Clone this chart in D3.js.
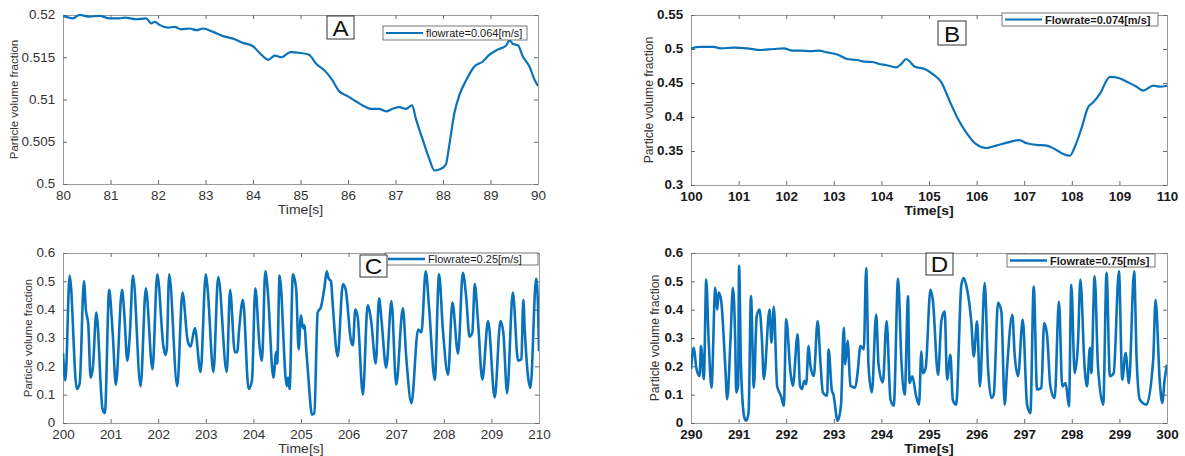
<!DOCTYPE html>
<html><head><meta charset="utf-8">
<script src="https://cdn.jsdelivr.net/npm/d3@7"></script>
<style>body{margin:0;background:#fff}svg{display:block;font-family:"Liberation Sans",Arial,sans-serif}</style>
</head><body><svg id="c" width="1185" height="456"></svg>
<script>
// ---------- DATA ----------
const seriesA = [[80,0.5199],[80.21,0.5196],[80.35,0.5200],[80.56,0.5198],[80.77,0.5199],[80.98,0.5196],[81.19,0.5196],[81.3,0.5197],[81.54,0.5195],[81.75,0.5196],[81.86,0.5190],[81.93,0.5192],[82.04,0.5188],[82.21,0.5185],[82.35,0.5186],[82.49,0.5183],[82.67,0.5184],[82.81,0.5182],[82.95,0.5184],[83.16,0.5180],[83.37,0.5175],[83.58,0.5172],[83.79,0.5167],[84.0,0.5163],[84.14,0.5155],[84.32,0.5147],[84.46,0.5152],[84.6,0.5150],[84.79,0.5156],[85.0,0.5155],[85.18,0.5153],[85.32,0.5143],[85.53,0.5133],[85.67,0.5123],[85.81,0.5110],[85.99,0.5104],[86.16,0.5098],[86.34,0.5092],[86.48,0.5089],[86.65,0.5089],[86.8,0.5086],[86.94,0.5089],[87.08,0.5091],[87.22,0.5089],[87.35,0.5093],[87.43,0.5077],[87.57,0.5053],[87.71,0.5030],[87.82,0.5016],[87.96,0.5018],[88.06,0.5023],[88.13,0.5045],[88.24,0.5084],[88.35,0.5106],[88.49,0.5123],[88.66,0.5139],[88.84,0.5145],[88.98,0.5153],[89.15,0.5159],[89.33,0.5164],[89.4,0.5170],[89.47,0.5166],[89.58,0.5164],[89.68,0.5151],[89.82,0.5139],[89.93,0.5123],[90,0.5116]];
const seriesB = [[100,0.501],[100.2,0.503],[100.48,0.503],[100.62,0.501],[100.9,0.502],[101.18,0.501],[101.46,0.4985],[101.74,0.500],[101.95,0.501],[102.13,0.4975],[102.3,0.4975],[102.51,0.497],[102.69,0.4975],[102.86,0.495],[103.07,0.492],[103.28,0.4853],[103.49,0.4838],[103.64,0.4814],[103.81,0.4809],[103.95,0.478],[104.09,0.4765],[104.31,0.473],[104.42,0.478],[104.52,0.4853],[104.59,0.482],[104.7,0.474],[104.91,0.4706],[105.08,0.463],[105.26,0.451],[105.43,0.424],[105.61,0.397],[105.78,0.3775],[105.99,0.360],[106.2,0.3544],[106.41,0.358],[106.66,0.3627],[106.9,0.366],[107.04,0.3618],[107.25,0.359],[107.47,0.358],[107.64,0.353],[107.82,0.3456],[107.96,0.343],[108.06,0.3554],[108.2,0.3824],[108.34,0.414],[108.45,0.4216],[108.59,0.434],[108.8,0.459],[109.0,0.457],[109.18,0.451],[109.36,0.4446],[109.5,0.4387],[109.71,0.446],[109.85,0.4446],[110,0.446]];
const seriesC = [[200,0.247],[200.05,0.15],[200.14,0.52],[200.29,0.12],[200.35,0.14],[200.44,0.50],[200.48,0.40],[200.53,0.35],[200.58,0.16],[200.63,0.20],[200.7,0.39],[200.83,0.05],[200.88,0.035],[200.97,0.47],[201.02,0.38],[201.05,0.30],[201.11,0.135],[201.24,0.47],[201.29,0.38],[201.35,0.22],[201.4,0.30],[201.47,0.52],[201.63,0.13],[201.74,0.475],[201.88,0.19],[201.98,0.525],[202.11,0.27],[202.15,0.24],[202.18,0.26],[202.23,0.525],[202.4,0.13],[202.51,0.46],[202.62,0.29],[202.68,0.27],[202.77,0.335],[202.89,0.18],[203.0,0.525],[203.04,0.47],[203.16,0.18],[203.26,0.515],[203.44,0.18],[203.51,0.47],[203.61,0.25],[203.66,0.25],[203.7,0.33],[203.78,0.435],[203.9,0.12],[203.97,0.15],[204.04,0.475],[204.13,0.27],[204.18,0.22],[204.25,0.535],[204.3,0.47],[204.42,0.16],[204.48,0.25],[204.5,0.21],[204.55,0.52],[204.7,0.13],[204.73,0.16],[204.76,0.12],[204.83,0.525],[204.9,0.47],[204.95,0.26],[205.0,0.38],[205.04,0.335],[205.07,0.345],[205.11,0.26],[205.16,0.15],[205.23,0.03],[205.28,0.035],[205.35,0.39],[205.42,0.41],[205.49,0.475],[205.54,0.535],[205.58,0.51],[205.63,0.50],[205.67,0.41],[205.77,0.235],[205.88,0.49],[205.94,0.47],[206.05,0.29],[206.09,0.275],[206.14,0.40],[206.19,0.375],[206.3,0.10],[206.4,0.415],[206.47,0.365],[206.57,0.21],[206.64,0.44],[206.69,0.365],[206.79,0.195],[206.9,0.43],[207.0,0.135],[207.14,0.405],[207.21,0.235],[207.32,0.07],[207.46,0.33],[207.53,0.32],[207.62,0.535],[207.69,0.41],[207.81,0.153],[207.9,0.525],[207.98,0.33],[208.09,0.17],[208.18,0.425],[208.3,0.245],[208.4,0.53],[208.47,0.445],[208.54,0.305],[208.6,0.32],[208.65,0.49],[208.72,0.355],[208.81,0.153],[208.93,0.36],[209.07,0.09],[209.19,0.36],[209.25,0.32],[209.33,0.105],[209.45,0.46],[209.56,0.22],[209.63,0.225],[209.67,0.435],[209.7,0.33],[209.82,0.124],[209.94,0.51],[209.98,0.41],[210,0.253]];
const seriesD = [[290.0,0.19],[290.06,0.266],[290.11,0.196],[290.18,0.166],[290.21,0.272],[290.27,0.155],[290.32,0.506],[290.37,0.295],[290.43,0.125],[290.51,0.477],[290.55,0.40],[290.58,0.46],[290.63,0.436],[290.72,0.20],[290.76,0.084],[290.83,0.295],[290.88,0.477],[290.93,0.284],[290.95,0.108],[290.99,0.13],[291.01,0.555],[291.05,0.20],[291.12,0.02],[291.16,0.008],[291.21,0.037],[291.26,0.448],[291.32,0.125],[291.38,0.377],[291.44,0.40],[291.49,0.295],[291.53,0.155],[291.65,0.40],[291.69,0.284],[291.74,0.41],[291.81,0.13],[291.89,0.096],[291.95,0.061],[292.0,0.366],[292.09,0.178],[292.14,0.131],[292.24,0.313],[292.29,0.131],[292.33,0.12],[292.38,0.149],[292.42,0.137],[292.47,0.272],[292.51,0.20],[292.58,0.166],[292.66,0.36],[292.72,0.213],[292.77,0.108],[292.86,0.096],[292.89,0.26],[292.96,0.114],[292.99,0.102],[293.08,0.008],[293.15,0.061],[293.21,0.336],[293.24,0.207],[293.29,0.29],[293.35,0.131],[293.45,0.125],[293.5,0.178],[293.56,0.272],[293.63,0.26],[293.68,0.547],[293.73,0.20],[293.8,0.108],[293.89,0.383],[293.94,0.207],[294.03,0.143],[294.11,0.36],[294.19,0.084],[294.26,0.061],[294.35,0.51],[294.42,0.22],[294.49,0.10],[294.56,0.447],[294.59,0.141],[294.65,0.165],[294.73,0.094],[294.79,0.065],[294.84,0.253],[294.87,0.176],[294.93,0.194],[295.03,0.47],[295.08,0.435],[295.19,0.17],[295.26,0.36],[295.33,0.394],[295.38,0.153],[295.45,0.241],[295.5,0.082],[295.57,0.065],[295.68,0.488],[295.73,0.512],[295.78,0.488],[295.89,0.353],[295.94,0.235],[296.01,0.359],[296.07,0.129],[296.17,0.494],[296.24,0.194],[296.31,0.088],[296.36,0.10],[296.45,0.424],[296.52,0.394],[296.59,0.065],[296.64,0.194],[296.75,0.382],[296.8,0.241],[296.87,0.165],[296.97,0.365],[297.06,0.065],[297.13,0.035],[297.2,0.482],[297.27,0.118],[297.36,0.124],[297.42,0.353],[297.48,0.312],[297.55,0.129],[297.64,0.088],[297.73,0.429],[297.8,0.129],[297.87,0.141],[297.94,0.059],[297.99,0.488],[298.06,0.176],[298.13,0.282],[298.18,0.506],[298.27,0.194],[298.32,0.129],[298.38,0.265],[298.41,0.176],[298.48,0.518],[298.55,0.20],[298.66,0.065],[298.73,0.53],[298.8,0.165],[298.88,0.176],[298.99,0.535],[299.06,0.153],[299.13,0.247],[299.2,0.141],[299.31,0.535],[299.36,0.235],[299.43,0.082],[299.57,0.065],[299.71,0.224],[299.76,0.435],[299.85,0.141],[299.9,0.071],[299.95,0.153],[300,0.206]];

const xTicksA = [80,81,82,83,84,85,86,87,88,89,90];
const yTicksA = [0.5,0.505,0.51,0.515,0.52];
const xTicksB = [100,101,102,103,104,105,106,107,108,109,110];
const yTicksB = [0.3,0.35,0.4,0.45,0.5,0.55];
const xTicksC = [200,201,202,203,204,205,206,207,208,209,210];
const yTicksC = [0,0.1,0.2,0.3,0.4,0.5,0.6];
const xTicksD = [290,291,292,293,294,295,296,297,298,299,300];
const yTicksD = [0,0.1,0.2,0.3,0.4,0.5,0.6];
const legendLabels = ["flowrate=0.064[m/s]","Flowrate=0.074[m/s]","Flowrate=0.25[m/s]","Flowrate=0.75[m/s]"];
const panelLetters = ["A","B","C","D"];
const xTitle = "Time[s]";
const yTitle = "Particle volume fraction";

// ---------- LAYOUT ----------
const panels = [
 {data:seriesA,xt:xTicksA,yt:yTicksA,l:63,r:538,t:15,b:184,bold:false,lw:2.2,ylx:14,ylfs:11.5,
  leg:{x:383,y:26,w:144,h:14},let:{x:327,y:16,w:27,h:23}},
 {data:seriesB,xt:xTicksB,yt:yTicksB,l:691,r:1167,t:15,b:185,bold:true,lw:2.2,ylx:649,ylfs:12.2,
  leg:{x:1002,y:13,w:156,h:13},let:{x:938,y:21,w:28,h:24}},
 {data:seriesC,xt:xTicksC,yt:yTicksC,l:63,r:539,t:253,b:423,bold:false,lw:2.6,ylx:28,ylfs:11.4,
  leg:{x:385,y:253,w:153,h:12},let:{x:360,y:255,w:27,h:22}},
 {data:seriesD,xt:xTicksD,yt:yTicksD,l:691,r:1167,t:253,b:423,bold:true,lw:2.6,ylx:655,ylfs:12.2,
  leg:{x:1007,y:254,w:148,h:13},let:{x:926,y:253,w:27,h:22}}
];
const lineColor = "#0a72ba";
const stretch = 1.12;
const svg = d3.select("#c");
const fmt = d => String(+d.toFixed(3));

panels.forEach((p,i)=>{
  const x = d3.scaleLinear().domain(d3.extent(p.xt)).range([p.l,p.r]);
  const y = d3.scaleLinear().domain(d3.extent(p.yt)).range([p.b,p.t]);
  const g = svg.append("g");
  const fw = p.bold ? "bold" : "normal";
  const tc = p.bold ? "#1a1a1a" : "#333";
  const cid = "clip"+i;
  svg.append("clipPath").attr("id",cid).append("rect")
    .attr("x",p.l).attr("y",p.t-1).attr("width",p.r-p.l).attr("height",p.b-p.t+2);
  const axB = d3.axisBottom(x).tickValues(p.xt).tickSize(-4).tickPadding(7).tickFormat(d3.format("d"));
  const axT = d3.axisTop(x).tickValues(p.xt).tickSize(-4).tickFormat("");
  const axL = d3.axisLeft(y).tickValues(p.yt).tickSize(-4).tickPadding(7).tickFormat(fmt);
  const axR = d3.axisRight(y).tickValues(p.yt).tickSize(-4).tickFormat("");
  const style = sel => {
    sel.selectAll("path").attr("stroke","#9a9a9a").attr("stroke-width",1);
    sel.selectAll("line").attr("stroke","#6a6a6a");
    sel.selectAll("text").attr("fill",tc).style("font-size","12px").style("font-weight",fw)
       .style("font-family",'"Liberation Sans",Arial,sans-serif')
       .attr("transform",`scale(${stretch},1)`);
  };
  g.append("g").attr("transform",`translate(0,${p.b})`).call(axB).call(style);
  g.append("g").attr("transform",`translate(0,${p.t})`).call(axT).call(style);
  g.append("g").attr("transform",`translate(${p.l},0)`).call(axL).call(style);
  g.append("g").attr("transform",`translate(${p.r},0)`).call(axR).call(style);
  const line = d3.line().x(d=>x(d[0])).y(d=>y(d[1])).curve(d3.curveMonotoneX);
  g.append("path").datum(p.data).attr("d",line).attr("fill","none")
    .attr("stroke",lineColor).attr("stroke-width",p.lw).attr("stroke-linejoin","round")
    .attr("clip-path",`url(#${cid})`);
  g.append("text").attr("transform",`translate(${(p.l+p.r)/2},${p.b+30}) scale(${stretch},1)`)
    .attr("text-anchor","middle")
    .attr("fill",tc).style("font-size","12.5px").style("font-weight",fw).text(xTitle);
  g.append("text").attr("transform",`translate(${p.ylx},${(p.t+p.b)/2}) rotate(-90)`)
    .attr("text-anchor","middle").attr("dominant-baseline","central")
    .attr("fill","#333").style("font-size",p.ylfs+"px").text(yTitle);
  const L = p.leg;
  g.append("rect").attr("x",L.x).attr("y",L.y).attr("width",L.w).attr("height",L.h)
    .attr("fill","#fff").attr("stroke","#555").attr("stroke-width",0.8);
  g.append("line").attr("x1",L.x+3).attr("x2",L.x+40).attr("y1",L.y+L.h/2).attr("y2",L.y+L.h/2)
    .attr("stroke",lineColor).attr("stroke-width",p.lw);
  g.append("text").attr("x",L.x+43).attr("y",L.y+L.h/2).attr("dominant-baseline","central")
    .attr("fill","#1a1a1a").style("font-size","11px").style("font-weight",fw).text(legendLabels[i]);
  const T = p.let;
  g.append("rect").attr("x",T.x).attr("y",T.y).attr("width",T.w).attr("height",T.h)
    .attr("fill","#fff").attr("stroke","#333").attr("stroke-width",1);
  g.append("text").attr("transform",`translate(${T.x+T.w/2},${T.y+T.h-3}) scale(1.1,1)`)
    .attr("text-anchor","middle")
    .attr("fill","#111").style("font-size","22px").text(panelLetters[i]);
});
</script></body></html>
